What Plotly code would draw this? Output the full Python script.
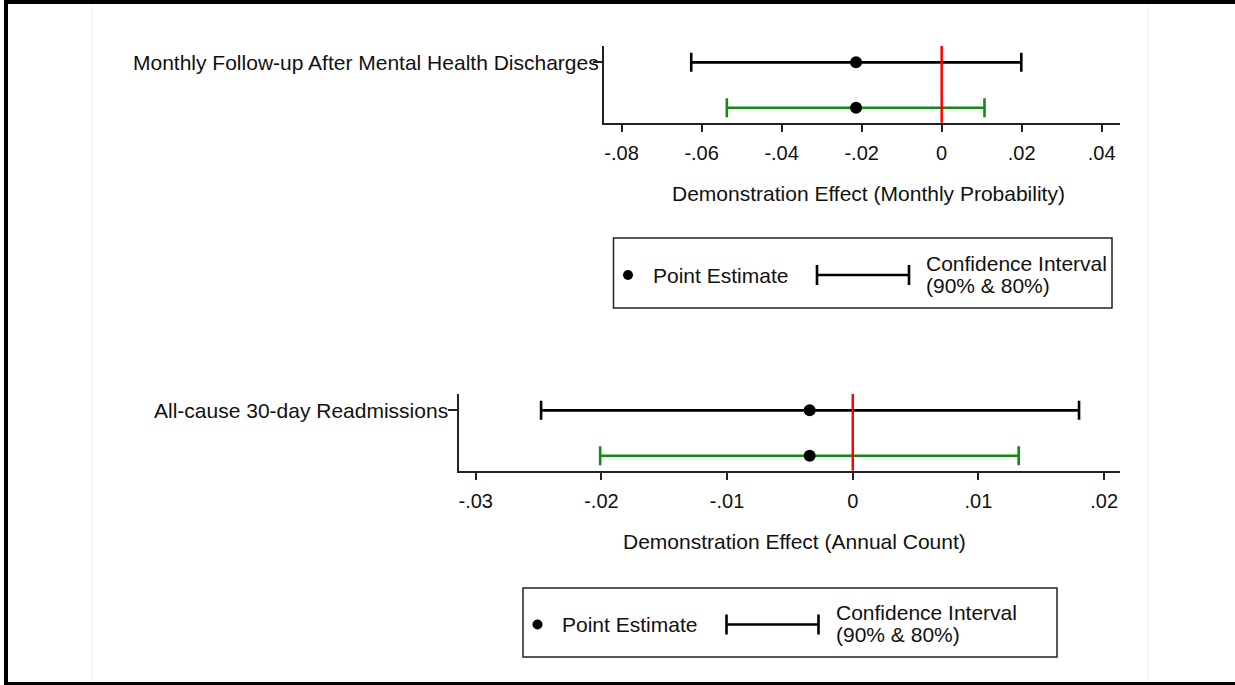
import plotly.graph_objects as go

W, H = 1235, 685
FONT = "Liberation Sans, Arial, sans-serif"

# ---- data -------------------------------------------------------------
outcomes = ["Monthly Follow-up After Mental Health Discharges",
            "All-cause 30-day Readmissions"]
axis_titles = ["Demonstration Effect (Monthly Probability)",
               "Demonstration Effect (Annual Count)"]

estimates = [-0.0214, -0.00343]
ci90_low = [-0.0626, -0.0248]
ci90_high = [0.0199, 0.0180]
ci80_low = [-0.0537, -0.0201]
ci80_high = [0.0107, 0.0132]

tick_vals_top = [-0.08, -0.06, -0.04, -0.02, 0, 0.02, 0.04]
tick_text_top = ["-.08", "-.06", "-.04", "-.02", "0", ".02", ".04"]
tick_vals_bot = [-0.03, -0.02, -0.01, 0, 0.01, 0.02]
tick_text_bot = ["-.03", "-.02", "-.01", "0", ".01", ".02"]

legend_point = "Point Estimate"
legend_ci = ["Confidence Interval", "(90% & 80%)"]

# row positions inside each panel: 90% interval above, 80% interval below
ROW90, ROW80 = 1, 0


def px(x):
    return x / W


def py(y):
    return 1 - y / H


# ---- panel geometry (pixels) -----------------------------------------
panels = [
    dict(x0=604, x1=1120, y0=46, y1=122.7, xrange=[-0.0844, 0.04457],
         ticks=(tick_vals_top, tick_text_top), label_right=601, title_x=868, title_y=193,
         leg=(613.5, 238, 1112, 308)),
    dict(x0=459, x1=1120, y0=394, y1=470.7, xrange=[-0.03133, 0.02126],
         ticks=(tick_vals_bot, tick_text_bot), label_right=450, title_x=794, title_y=541,
         leg=(523, 588, 1057, 657)),
]

fig = go.Figure()
shapes = []
annotations = []
layout_axes = {}

for i, p in enumerate(panels):
    k = "" if i == 0 else str(i + 1)
    xa, ya = "x" + k, "y" + k

    # 90% interval
    fig.add_trace(go.Scatter(
        x=[estimates[i]], y=[ROW90], mode="markers", xaxis=xa, yaxis=ya,
        marker=dict(color="black", size=12),
        error_x=dict(type="data", symmetric=False,
                     array=[ci90_high[i] - estimates[i]],
                     arrayminus=[estimates[i] - ci90_low[i]],
                     color="black", thickness=2.6, width=9.5),
        showlegend=False, hoverinfo="x"))
    # 80% interval
    fig.add_trace(go.Scatter(
        x=[estimates[i]], y=[ROW80], mode="markers", xaxis=xa, yaxis=ya,
        marker=dict(color="black", size=12),
        error_x=dict(type="data", symmetric=False,
                     array=[ci80_high[i] - estimates[i]],
                     arrayminus=[estimates[i] - ci80_low[i]],
                     color="#138a13", thickness=2.6, width=9.5),
        showlegend=False, hoverinfo="x"))

    tv, tt = p["ticks"]
    layout_axes["xaxis" + k] = dict(
        domain=[px(p["x0"]), px(p["x1"])], range=p["xrange"], anchor=ya,
        showline=True, linecolor="#222", linewidth=1.5, mirror=False,
        ticks="outside", ticklen=8, tickwidth=1.5, tickcolor="#222",
        ticklabelstandoff=4,
        tickvals=tv, ticktext=tt, tickfont=dict(family=FONT, size=20, color="#111"),
        showgrid=False, zeroline=False, fixedrange=True)
    layout_axes["yaxis" + k] = dict(
        domain=[py(p["y1"]), py(p["y0"])], range=[-0.33, 1.36], anchor=xa,
        showline=True, linecolor="#222", linewidth=1.5,
        ticks="outside", ticklen=9, tickwidth=1.5, tickcolor="#222",
        tickvals=[ROW90], showticklabels=False,
        showgrid=False, zeroline=False, fixedrange=True)

    # reference line at zero
    shapes.append(dict(type="line", xref=xa, yref=ya + " domain", x0=0, x1=0, y0=0, y1=1,
                       line=dict(color="#ff0000", width=2.5), layer="above"))

    # outcome label
    annotations.append(dict(text=outcomes[i], xref="paper", yref="paper",
                            x=px(p["label_right"]), y=py(p["y0"] + 16.7),
                            xanchor="right", yanchor="middle", showarrow=False,
                            font=dict(family=FONT, size=21, color="#111")))
    # axis title
    annotations.append(dict(text=axis_titles[i], xref="paper", yref="paper",
                            x=px(p["title_x"]), y=py(p["title_y"]),
                            xanchor="center", yanchor="middle", showarrow=False,
                            font=dict(family=FONT, size=21, color="#111")))

    # legend box
    lx0, ly0, lx1, ly1 = p["leg"]
    shapes.append(dict(type="rect", xref="paper", yref="paper",
                       x0=px(lx0), x1=px(lx1), y0=py(ly1), y1=py(ly0),
                       line=dict(color="#222", width=1.5), fillcolor="white", layer="below"))
    cy = (ly0 + ly1) / 2 + 2
    dot_x = lx0 + 14.5
    shapes.append(dict(type="circle", xref="paper", yref="paper",
                       x0=px(dot_x - 5), x1=px(dot_x + 5), y0=py(cy + 5), y1=py(cy - 5),
                       line=dict(width=0), fillcolor="black"))
    annotations.append(dict(text=legend_point, xref="paper", yref="paper",
                            x=px(lx0 + 37), y=py(cy), xanchor="left", yanchor="middle",
                            showarrow=False, font=dict(family=FONT, size=21, color="#111")))
    ci_x0 = lx0 + 203.5
    ci_x1 = ci_x0 + 92
    shapes.append(dict(type="line", xref="paper", yref="paper",
                       x0=px(ci_x0), x1=px(ci_x1), y0=py(cy), y1=py(cy),
                       line=dict(color="black", width=2.6)))
    for cx in (ci_x0, ci_x1):
        shapes.append(dict(type="line", xref="paper", yref="paper",
                           x0=px(cx), x1=px(cx), y0=py(cy - 10), y1=py(cy + 10),
                           line=dict(color="black", width=2.6)))
    for j, line in enumerate(legend_ci):
        annotations.append(dict(text=line, xref="paper", yref="paper",
                                x=px(ci_x1 + 15), y=py(cy - 12 + 22 * j),
                                xanchor="left", yanchor="middle", showarrow=False,
                                font=dict(family=FONT, size=21, color="#111")))

# faint graph-region edges
for gx in (92, 1148):
    shapes.append(dict(type="line", xref="paper", yref="paper",
                       x0=px(gx), x1=px(gx), y0=py(680), y1=py(6),
                       line=dict(color="#eeeeee", width=1), layer="below"))

# outer frame
shapes.append(dict(type="rect", xref="paper", yref="paper",
                   x0=px(4), x1=1, y0=py(4), y1=1, line=dict(width=0), fillcolor="black"))
shapes.append(dict(type="rect", xref="paper", yref="paper",
                   x0=px(4), x1=px(8), y0=0, y1=1, line=dict(width=0), fillcolor="black"))
shapes.append(dict(type="rect", xref="paper", yref="paper",
                   x0=px(4), x1=1, y0=0, y1=py(682), line=dict(width=0), fillcolor="black"))

fig.update_layout(
    width=W, height=H, margin=dict(l=0, r=0, t=0, b=0),
    paper_bgcolor="white", plot_bgcolor="white",
    shapes=shapes, annotations=annotations, showlegend=False,
    **layout_axes)

fig.write_html("out.html", config={"displayModeBar": False})
